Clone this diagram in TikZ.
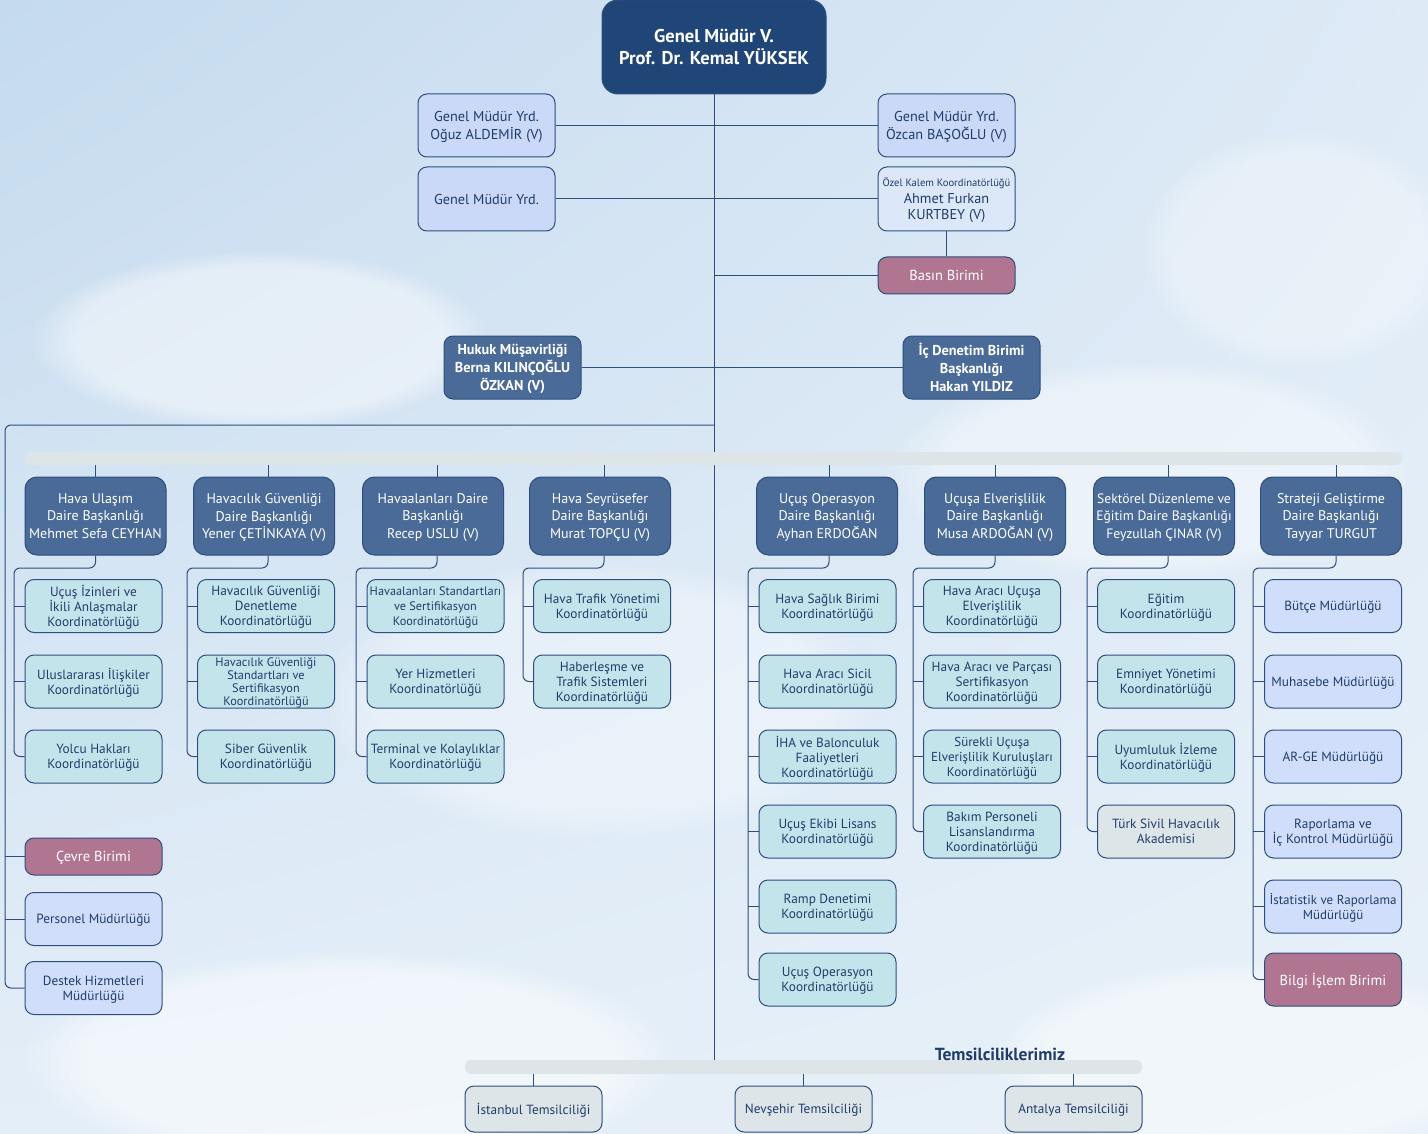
\documentclass[tikz,border=0pt]{standalone}
\usepackage{fontspec}
\setmainfont{PT Sans}
\usetikzlibrary{fadings,shadings}
\definecolor{navy}{HTML}{1F4677}
\definecolor{midb}{HTML}{4A6B98}
\definecolor{bordc}{HTML}{2D4E7E}
\definecolor{tealc}{HTML}{C4E4EC}
\definecolor{peri}{HTML}{CAD9F8}
\definecolor{peri2}{HTML}{D0DEFB}
\definecolor{perilt}{HTML}{DCE7F8}
\definecolor{mauve}{HTML}{B07590}
\definecolor{grayc}{HTML}{DDE5E8}
\definecolor{txtc}{HTML}{1F3D6B}
\definecolor{linec}{HTML}{2D4E7E}
\definecolor{bgul}{RGB}{196,218,238}
\definecolor{bgur}{RGB}{222,234,246}
\definecolor{bgll}{RGB}{228,238,248}
\definecolor{bglr}{RGB}{232,241,249}
\begin{document}
\begin{tikzpicture}[x=1pt,y=-1pt,
  box/.style={draw=bordc, line width=1pt, rounded corners=9pt, align=center, inner sep=1pt,
    minimum width=137pt, minimum height=53pt, text=txtc, text depth=-5pt, font=\fontsize{13.3}{15}\selectfont},
  topbox/.style={box, fill=navy, text=white, minimum width=224pt, minimum height=94pt, text depth=0pt,
    rounded corners=16pt, font=\bfseries\fontsize{18.5}{22}\selectfont},
  gmy/.style={box, fill=peri, minimum height=63pt, font=\fontsize{14.3}{18}\selectfont},
  boldmid/.style={box, fill=midb, text=white, minimum height=63pt, font=\bfseries\fontsize{14.3}{18}\selectfont},
  head/.style={box, fill=midb, text=white, minimum width=141pt, minimum height=78pt,
    rounded corners=12pt, text depth=-7pt, font=\fontsize{14}{17.5}\selectfont},
  sub/.style={box, fill=tealc},
  mud/.style={box, fill=peri2},
  pinkbox/.style={box, fill=mauve, text=white, font=\fontsize{14.5}{16}\selectfont},
  graybox/.style={box, fill=grayc},
  bar/.style={fill=grayc, rounded corners=6pt, inner sep=0pt},
  conn/.style={draw=linec, line width=1pt},
  rconn/.style={conn, rounded corners=6pt},
  cloud/.style={fill=white, path fading=circle with fuzzy edge 20 percent}
]
\useasboundingbox (0,0) rectangle (1428,1134);
% background
\shade[upper left=bgul, upper right=bgur, lower left=bgll, lower right=bglr]
  (0,0) rectangle (1428,1134);
\fill[cloud, opacity=0.45] (260,340) ellipse (230 and 90);
\fill[cloud, opacity=0.4] (1150,470) ellipse (260 and 110);
\fill[cloud, opacity=0.5] (350,1060) ellipse (330 and 110);
\fill[cloud, opacity=0.45] (1250,1060) ellipse (260 and 100);
\fill[cloud, opacity=0.35] (600,700) ellipse (280 and 140);
\fill[cloud, opacity=0.3] (1300,250) ellipse (160 and 120);

% ---------- top ----------
\node[topbox] (gm) at (714,47) {Genel Müdür V.\\Prof. Dr. Kemal YÜKSEK};
\node[gmy] (gmy1) at (486.5,125.5) {Genel Müdür Yrd.\\Oğuz ALDEMİR (V)};
\node[gmy] (gmy2) at (946.5,125.5) {Genel Müdür Yrd.\\Özcan BAŞOĞLU (V)};
\node[gmy, minimum height=64pt] (gmy3) at (486.5,199) {Genel Müdür Yrd.};
\node[gmy, fill=perilt, minimum height=64pt, font=\fontsize{14.3}{16.5}\selectfont] (ozel) at (946.5,199)
  {{\fontsize{10.6}{11}\selectfont Özel Kalem Koordinatörlüğü}\\Ahmet Furkan\\KURTBEY (V)};
\node[pinkbox, minimum height=37pt] (basin) at (946.5,275.5) {Basın Birimi};
\node[boldmid] (hukuk) at (512.5,367.5) {Hukuk Müşavirliği\\Berna KILINÇOĞLU\\ÖZKAN (V)};
\node[boldmid] (icd) at (971.5,367.5) {İç Denetim Birimi\\Başkanlığı\\Hakan YILDIZ};

\coordinate (lj) at (714,425);
\coordinate (tb) at (714,1060);
\draw[conn] (gm.south) -- (tb);
\draw[conn] (gmy1.east) -- (gmy2.west);
\draw[conn] (gmy3.east) -- (ozel.west);
\draw[conn] (ozel.south) -- (basin.north);
\draw[conn] (basin.west -| gm.south) -- (basin.west);
\draw[conn] (hukuk.east) -- (icd.west);

% ---------- left column ----------
\node[pinkbox, minimum height=37pt] (cevre) at (93.5,856.5) {Çevre Birimi};
\node[mud] (pers) at (93.5,919) {Personel Müdürlüğü};
\node[mud] (destek) at (93.5,988) {Destek Hizmetleri\\Müdürlüğü};
\draw[rconn] (lj) -| (5,988) -- (destek.west);
\draw[conn] (5,856.5) -- (cevre.west);
\draw[conn] (5,919) -- (pers.west);

% ---------- department bar ----------
\node[bar, minimum width=1377pt, minimum height=13pt] (dbar) at (713.5,458.5) {};

\node[head] (h1) at (95.5,516) {Hava Ulaşım\\Daire Başkanlığı\\Mehmet Sefa CEYHAN};
\node[head] (h2) at (264,516) {Havacılık Güvenliği\\Daire Başkanlığı\\Yener ÇETİNKAYA (V)};
\node[head] (h3) at (433,516) {Havaalanları Daire\\Başkanlığı\\Recep USLU (V)};
\node[head] (h4) at (600,516) {Hava Seyrüsefer\\Daire Başkanlığı\\Murat TOPÇU (V)};
\node[head] (h5) at (827,516) {Uçuş Operasyon\\Daire Başkanlığı\\Ayhan ERDOĞAN};
\node[head] (h6) at (995,516) {Uçuşa Elverişlilik\\Daire Başkanlığı\\Musa ARDOĞAN (V)};
\node[head, font=\fontsize{13.6}{17.5}\selectfont] (h7) at (1164,516) {Sektörel Düzenleme ve\\Eğitim Daire Başkanlığı\\Feyzullah ÇINAR (V)};
\node[head] (h8) at (1331,516) {Strateji Geliştirme\\Daire Başkanlığı\\Tayyar TURGUT};
\foreach \h/\dx in {h1/0,h2/4,h3/4,h4/4,h5/2,h6/0,h7/4,h8/5}{
  \draw[conn] ([xshift=\dx pt]dbar.south -| \h.north) -- ([xshift=\dx pt]\h.north);
}

% column 1
\node[sub] (c11) at (93.5,606) {Uçuş İzinleri ve\\İkili Anlaşmalar\\Koordinatörlüğü};
\node[sub] (c12) at (93.5,681.5) {Uluslararası İlişkiler\\Koordinatörlüğü};
\node[sub] (c13) at (93.5,756.5) {Yolcu Hakları\\Koordinatörlüğü};
% column 2
\node[sub] (c21) at (266,606) {Havacılık Güvenliği\\Denetleme\\Koordinatörlüğü};
\node[sub, font=\fontsize{12.3}{13}\selectfont] (c22) at (266,681.5) {Havacılık Güvenliği\\Standartları ve\\Sertifikasyon\\Koordinatörlüğü};
\node[sub] (c23) at (266,756.5) {Siber Güvenlik\\Koordinatörlüğü};
% column 3
\node[sub, font=\fontsize{12.3}{15}\selectfont] (c31) at (435.5,606) {Havaalanları Standartları\\ve Sertifikasyon\\Koordinatörlüğü};
\node[sub] (c32) at (435.5,681.5) {Yer Hizmetleri\\Koordinatörlüğü};
\node[sub] (c33) at (435.5,756.5) {Terminal ve Kolaylıklar\\Koordinatörlüğü};
% column 4
\node[sub] (c41) at (602,606) {Hava Trafik Yönetimi\\Koordinatörlüğü};
\node[sub] (c42) at (602,681.5) {Haberleşme ve\\Trafik Sistemleri\\Koordinatörlüğü};
% column 5
\node[sub] (c51) at (827.5,606) {Hava Sağlık Birimi\\Koordinatörlüğü};
\node[sub] (c52) at (827.5,681.5) {Hava Aracı Sicil\\Koordinatörlüğü};
\node[sub] (c53) at (827.5,756.5) {İHA ve Balonculuk\\Faaliyetleri\\Koordinatörlüğü};
\node[sub] (c54) at (827.5,831.5) {Uçuş Ekibi Lisans\\Koordinatörlüğü};
\node[sub] (c55) at (827.5,906.5) {Ramp Denetimi\\Koordinatörlüğü};
\node[sub] (c56) at (827.5,979.5) {Uçuş Operasyon\\Koordinatörlüğü};
% column 6
\node[sub] (c61) at (992,606) {Hava Aracı Uçuşa\\Elverişlilik\\Koordinatörlüğü};
\node[sub] (c62) at (992,681.5) {Hava Aracı ve Parçası\\Sertifikasyon\\Koordinatörlüğü};
\node[sub, font=\fontsize{13}{15}\selectfont] (c63) at (992,756.5) {Sürekli Uçuşa\\Elverişlilik Kuruluşları\\Koordinatörlüğü};
\node[sub] (c64) at (992,831.5) {Bakım Personeli\\Lisanslandırma\\Koordinatörlüğü};
% column 7
\node[sub] (c71) at (1166,606) {Eğitim\\Koordinatörlüğü};
\node[sub] (c72) at (1166,681.5) {Emniyet Yönetimi\\Koordinatörlüğü};
\node[sub] (c73) at (1166,756.5) {Uyumluluk İzleme\\Koordinatörlüğü};
\node[graybox] (c74) at (1166,831.5) {Türk Sivil Havacılık\\Akademisi};
% column 8
\node[mud] (c81) at (1333,606) {Bütçe Müdürlüğü};
\node[mud] (c82) at (1333,681.5) {Muhasebe Müdürlüğü};
\node[mud] (c83) at (1333,756.5) {AR-GE Müdürlüğü};
\node[mud] (c84) at (1333,831.5) {Raporlama ve\\İç Kontrol Müdürlüğü};
\node[mud, font=\fontsize{13}{15}\selectfont] (c85) at (1333,906.5) {İstatistik ve Raporlama\\Müdürlüğü};
\node[pinkbox] (c86) at (1333,979.5) {Bilgi İşlem Birimi};

% branch connectors
\draw[rconn] (h1.south) |- (14,568) |- (c13.west);
\foreach \c in {c11,c12} \draw[conn] (14,0 |- \c.west) -- (\c.west);
\draw[rconn] ([xshift=4pt]h2.south) |- (187,568) |- (c23.west);
\foreach \c in {c21,c22} \draw[conn] (187,0 |- \c.west) -- (\c.west);
\draw[rconn] ([xshift=4pt]h3.south) |- (356,568) |- (c33.west);
\foreach \c in {c31,c32} \draw[conn] (356,0 |- \c.west) -- (\c.west);
\draw[rconn] ([xshift=4pt]h4.south) |- (523,568) |- (c42.west);
\foreach \c in {c41} \draw[conn] (523,0 |- \c.west) -- (\c.west);
\draw[rconn] ([xshift=2pt]h5.south) |- (748,568) |- (c56.west);
\foreach \c in {c51,c52,c53,c54,c55} \draw[conn] (748,0 |- \c.west) -- (\c.west);
\draw[rconn] (h6.south) |- (913,568) |- (c64.west);
\foreach \c in {c61,c62,c63} \draw[conn] (913,0 |- \c.west) -- (\c.west);
\draw[rconn] ([xshift=4pt]h7.south) |- (1087,568) |- (c74.west);
\foreach \c in {c71,c72,c73} \draw[conn] (1087,0 |- \c.west) -- (\c.west);
\draw[rconn] ([xshift=5pt]h8.south) |- (1253,568) |- (c86.west);
\foreach \c in {c81,c82,c83,c84,c85} \draw[conn] (1253,0 |- \c.west) -- (\c.west);

% ---------- representations ----------
\node[bar, minimum width=677pt, minimum height=14pt] (tbar) at (803.5,1067) {};
\node[font=\bfseries\fontsize{17.5}{19}\selectfont, text=txtc, inner sep=0pt] (tlabel) at (1000,1054) {Temsilciliklerimiz};
\node[graybox, minimum height=46pt] (r1) at (533.5,1109) {İstanbul Temsilciliği};
\node[graybox, minimum height=46pt] (r2) at (803.5,1109) {Nevşehir Temsilciliği};
\node[graybox, minimum height=46pt] (r3) at (1073.5,1109) {Antalya Temsilciliği};
\foreach \r in {r1,r2,r3} \draw[conn] (tbar.south -| \r.north) -- (\r.north);
\end{tikzpicture}
\end{document}
